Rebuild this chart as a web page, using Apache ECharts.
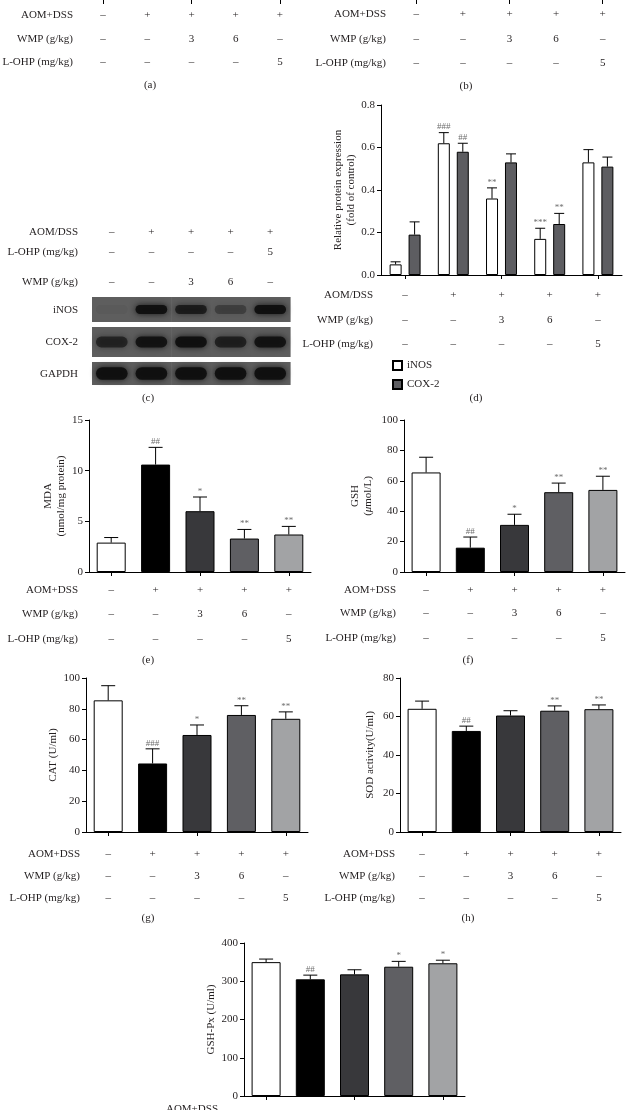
<!DOCTYPE html>
<html>
<head>
<meta charset="utf-8">
<script src="https://cdn.jsdelivr.net/npm/echarts@6/dist/echarts.min.js"></script>
<style>
  html, body { margin: 0; padding: 0; background: #fff; }
  #main { width: 626px; height: 1110px; }
</style>
</head>
<body>
<div id="main"></div>
<script>
// treatment rows shown under every panel
var groups = ['Control', 'Model', 'WMP 3', 'WMP 6', 'L-OHP 5'];
var aomRow = ['–', '+', '+', '+', '+'];
var wmpRow = ['–', '–', '3', '6', '–'];
var lohpRow = ['–', '–', '–', '–', '5'];

// (c) western blot, band strength per lane (0..1)
var inosBand = [0.05, 0.95, 0.75, 0.35, 0.95];
var cox2Band = [0.65, 0.9, 0.95, 0.7, 0.9];
var gapdhBand = [0.95, 0.95, 0.95, 0.95, 0.95];

// (d) relative protein expression
var inosMean = [0.05, 0.62, 0.36, 0.17, 0.53];
var inosErr = [0.012, 0.05, 0.05, 0.05, 0.06];
var inosSig = ['', '###', '**', '***', ''];
var cox2Mean = [0.19, 0.58, 0.53, 0.24, 0.51];
var cox2Err = [0.06, 0.04, 0.04, 0.05, 0.045];
var cox2Sig = ['', '##', '', '**', ''];

// (e) MDA
var mdaMean = [2.9, 10.6, 6.0, 3.3, 3.7];
var mdaErr = [0.5, 1.7, 1.4, 0.9, 0.8];
var mdaSig = ['', '##', '*', '**', '**'];

// (f) GSH
var gshMean = [65.5, 16, 31, 52.5, 54];
var gshErr = [10, 7, 7, 6, 9];
var gshSig = ['', '##', '*', '**', '**'];

// (g) CAT
var catMean = [85.5, 44.5, 63, 76, 73.5];
var catErr = [9.5, 9.5, 6.5, 6, 4.5];
var catSig = ['', '###', '*', '**', '**'];

// (h) SOD
var sodMean = [64, 52.5, 60.5, 63, 63.8];
var sodErr = [4, 2.5, 2.5, 2.5, 2.2];
var sodSig = ['', '##', '', '**', '**'];

// (i) GSH-Px
var gpxMean = [350, 305, 318, 338, 347];
var gpxErr = [8, 11, 12, 14, 8];
var gpxSig = ['', '##', '', '*', '*'];

var FONT = 'Liberation Serif';
var INK = '#231f20';
var barColors = ['#ffffff', '#000000', '#38383b', '#5f5f63', '#a2a3a5'];

function toPairs(mean, err) {
  return mean.map(function (v, i) { return [i, v, err[i]]; });
}

// upper error bar + significance mark
function errItem(offset, capW, sig) {
  return function (params, api) {
    var i = api.value(0), v = api.value(1), e = api.value(2);
    var base = api.coord([i, v]);
    var top = api.coord([i, v + e]);
    var x = base[0] + offset;
    var kids = [
      { type: 'line', shape: { x1: x, y1: base[1], x2: x, y2: top[1] }, style: { stroke: '#000', lineWidth: 1 } },
      { type: 'line', shape: { x1: x - capW / 2, y1: top[1], x2: x + capW / 2, y2: top[1] }, style: { stroke: '#000', lineWidth: 1 } }
    ];
    if (sig[i]) {
      kids.push({
        type: 'text', x: x, y: top[1] - 1,
        style: { text: sig[i], textAlign: 'center', textVerticalAlign: 'bottom', font: '9px ' + FONT, fill: '#6d6d6d' }
      });
    }
    return { type: 'group', children: kids };
  };
}

// one lane of a blot strip
function blotItem(bandH) {
  return function (params, api) {
    var lane = api.value(0), s = api.value(1);
    var cs = params.coordSys;
    var c = api.coord([lane, 0.5]);
    var w = api.size([1, 0])[0];
    var bh = cs.height * bandH;
    var bw = w * 0.8;
    return {
      type: 'group', children: [
        { type: 'rect', shape: { x: c[0] - w / 2, y: cs.y, width: w + 0.6, height: cs.height }, style: { fill: '#5e5e5e' } },
        {
          type: 'rect', shape: { x: c[0] - bw / 2, y: c[1] - bh / 2, width: bw, height: bh, r: bh / 2 },
          style: { fill: 'rgba(15,15,15,' + s + ')', shadowBlur: 6, shadowColor: 'rgba(15,15,15,' + s + ')' }
        }
      ]
    };
  };
}

var grid = [], xAxis = [], yAxis = [], series = [];

function catAxis(g, show) {
  return {
    type: 'category', gridIndex: g, data: groups, show: show,
    axisLine: { show: true, onZero: false, lineStyle: { color: '#000', width: 1 } },
    axisTick: { show: true, alignWithLabel: true, length: 4, lineStyle: { color: '#000' } },
    axisLabel: { show: false }, splitLine: { show: false }
  };
}

// (a), (b): only the bottom ticks of the cut off charts show
[[81, 221], [393, 233]].forEach(function (p) {
  var g = grid.length;
  grid.push({ left: p[0], width: p[1], top: 0, height: 40, outerBoundsMode: 'none' });
  var xa = catAxis(g, true);
  xa.position = 'top';
  xa.axisLine.show = false;
  xa.axisTick.inside = true;
  xAxis.push(xa);
  yAxis.push({ type: 'value', gridIndex: g, show: false, min: 0, max: 1 });
});

// (c) blot strips
var blots = [
  { top: 297, height: 25, band: 0.36, data: inosBand },
  { top: 327, height: 30, band: 0.36, data: cox2Band },
  { top: 362, height: 23, band: 0.55, data: gapdhBand }
];
blots.forEach(function (b) {
  var g = grid.length;
  grid.push({ left: 92, width: 198, top: b.top, height: b.height });
  xAxis.push(catAxis(g, false));
  yAxis.push({ type: 'value', gridIndex: g, min: 0, max: 1, show: false });
  series.push({
    type: 'custom', xAxisIndex: g, yAxisIndex: g, renderItem: blotItem(b.band),
    data: b.data.map(function (v, i) { return [i, v]; })
  });
});

function valAxis(g, max, step, name, gap, fmt, rich) {
  return {
    type: 'value', gridIndex: g, min: 0, max: max, interval: step,
    axisLine: { show: true, lineStyle: { color: '#000', width: 1 } },
    axisTick: { show: true, length: 4, lineStyle: { color: '#000' } },
    splitLine: { show: false },
    axisLabel: { fontFamily: FONT, fontSize: 11, color: INK, margin: 6, formatter: fmt },
    name: name, nameLocation: 'middle', nameRotate: 90, nameGap: gap,
    nameTextStyle: { fontFamily: FONT, fontSize: 11, color: INK, lineHeight: 13, rich: rich }
  };
}

// (d) grouped bars
var gd = grid.length;
grid.push({ left: 381, width: 241, top: 105, height: 170 });
xAxis.push(catAxis(gd, true));
yAxis.push(valAxis(gd, 0.8, 0.2, 'Relative protein expression\n(fold of control)', 20,
  function (v) { return v.toFixed(1); }));
series.push(
  { name: 'iNOS', type: 'bar', xAxisIndex: gd, yAxisIndex: gd, barWidth: 12, barGap: '58%', data: inosMean,
    itemStyle: { color: '#ffffff', borderColor: '#000', borderWidth: 1 } },
  { name: 'COX-2', type: 'bar', xAxisIndex: gd, yAxisIndex: gd, barWidth: 12, barGap: '58%', data: cox2Mean,
    itemStyle: { color: '#5d5d61', borderColor: '#000', borderWidth: 1 } },
  { type: 'custom', xAxisIndex: gd, yAxisIndex: gd, renderItem: errItem(-9.5, 10, inosSig), data: toPairs(inosMean, inosErr), z: 5 },
  { type: 'custom', xAxisIndex: gd, yAxisIndex: gd, renderItem: errItem(9.5, 10, cox2Sig), data: toPairs(cox2Mean, cox2Err), z: 5 }
);

// (e)-(i) single bars
var panels = [
  { left: 89, top: 420, width: 222, height: 152, max: 15, step: 5, mean: mdaMean, err: mdaErr, sig: mdaSig,
    name: 'MDA\n(nmol/mg protein)', gap: 21 },
  { left: 404, top: 420, width: 221, height: 152, max: 100, step: 20, mean: gshMean, err: gshErr, sig: gshSig,
    name: 'GSH\n({i|μ}mol/L)', gap: 29, rich: { i: { fontFamily: FONT, fontSize: 11, fontStyle: 'italic', color: INK } } },
  { left: 86, top: 678, width: 222, height: 154, max: 100, step: 20, mean: catMean, err: catErr, sig: catSig,
    name: 'CAT (U/ml)', gap: 26 },
  { left: 400, top: 678, width: 221, height: 154, max: 80, step: 20, mean: sodMean, err: sodErr, sig: sodSig,
    name: 'SOD activity(U/ml)', gap: 23 },
  { left: 244, top: 943, width: 221, height: 153, max: 400, step: 100, mean: gpxMean, err: gpxErr, sig: gpxSig,
    name: 'GSH-Px (U/ml)', gap: 24 }
];
var panelAxis = [];
panels.forEach(function (p) {
  var g = grid.length;
  panelAxis.push(g);
  grid.push({ left: p.left, top: p.top, width: p.width, height: p.height });
  xAxis.push(catAxis(g, true));
  yAxis.push(valAxis(g, p.max, p.step, p.name, p.gap, null, p.rich));
  series.push(
    { type: 'bar', xAxisIndex: g, yAxisIndex: g, barWidth: 29,
      data: p.mean.map(function (v, i) { return { value: v, itemStyle: { color: barColors[i] } }; }),
      itemStyle: { borderColor: '#000', borderWidth: 1 } },
    { type: 'custom', xAxisIndex: g, yAxisIndex: g, renderItem: errItem(0, 14, p.sig), data: toPairs(p.mean, p.err), z: 5 }
  );
});

var chart = echarts.init(document.getElementById('main'));
chart.setOption({
  animation: false,
  backgroundColor: '#fff',
  textStyle: { fontFamily: FONT },
  legend: {
    data: ['iNOS', 'COX-2'], orient: 'vertical', left: 392, top: 360, padding: 0,
    itemWidth: 9, itemHeight: 9, itemGap: 8, icon: 'rect', selectedMode: false,
    textStyle: { fontFamily: FONT, fontSize: 11, color: INK }
  },
  grid: grid, xAxis: xAxis, yAxis: yAxis, series: series
});

// treatment tables, blot labels and panel letters
var NAMES = { aom: 'AOM+DSS', aom2: 'AOM/DSS', wmp: 'WMP (g/kg)', lohp: 'L-OHP (mg/kg)' };
var tables = [
  { xi: 0, right: 73, rows: [['aom', aomRow, 15], ['wmp', wmpRow, 39], ['lohp', lohpRow, 62]], tag: '(a)', tx: 150, ty: 85 },
  { xi: 1, right: 386, rows: [['aom', aomRow, 14], ['wmp', wmpRow, 39], ['lohp', lohpRow, 63]], tag: '(b)', tx: 466, ty: 86 },
  { xi: 2, right: 78, rows: [['aom2', aomRow, 232], ['lohp', lohpRow, 252], ['wmp', wmpRow, 282]], tag: '(c)', tx: 148, ty: 398 },
  { xi: gd, right: 373, rows: [['aom2', aomRow, 295], ['wmp', wmpRow, 320], ['lohp', lohpRow, 344]], tag: '(d)', tx: 476, ty: 398 },
  { xi: panelAxis[0], right: 78, rows: [['aom', aomRow, 590], ['wmp', wmpRow, 614], ['lohp', lohpRow, 639]], tag: '(e)', tx: 148, ty: 660 },
  { xi: panelAxis[1], right: 396, rows: [['aom', aomRow, 590], ['wmp', wmpRow, 613], ['lohp', lohpRow, 638]], tag: '(f)', tx: 468, ty: 660 },
  { xi: panelAxis[2], right: 80, rows: [['aom', aomRow, 854], ['wmp', wmpRow, 876], ['lohp', lohpRow, 898]], tag: '(g)', tx: 148, ty: 918 },
  { xi: panelAxis[3], right: 395, rows: [['aom', aomRow, 854], ['wmp', wmpRow, 876], ['lohp', lohpRow, 898]], tag: '(h)', tx: 468, ty: 918 },
  { xi: panelAxis[4], right: 218, rows: [['aom', null, 1109]] }
];

function txt(x, y, s, align, size) {
  return {
    type: 'text', x: x, y: y, silent: true,
    style: { text: s, textAlign: align, textVerticalAlign: 'middle', font: (size || 11) + 'px ' + FONT, fill: INK }
  };
}

var graphics = [];
tables.forEach(function (t) {
  t.rows.forEach(function (r) {
    graphics.push(txt(t.right, r[2], NAMES[r[0]], 'right'));
    if (!r[1]) return;
    r[1].forEach(function (s, i) {
      var x = chart.convertToPixel({ xAxisIndex: t.xi }, groups[i]);
      graphics.push(txt(x, r[2], s, 'center'));
    });
  });
  if (t.tag) graphics.push(txt(t.tx, t.ty, t.tag, 'center'));
});
[['iNOS', 310], ['COX-2', 342], ['GAPDH', 374]].forEach(function (b) {
  graphics.push(txt(78, b[1], b[0], 'right'));
});

chart.setOption({ graphic: graphics });
</script>
</body>
</html>
